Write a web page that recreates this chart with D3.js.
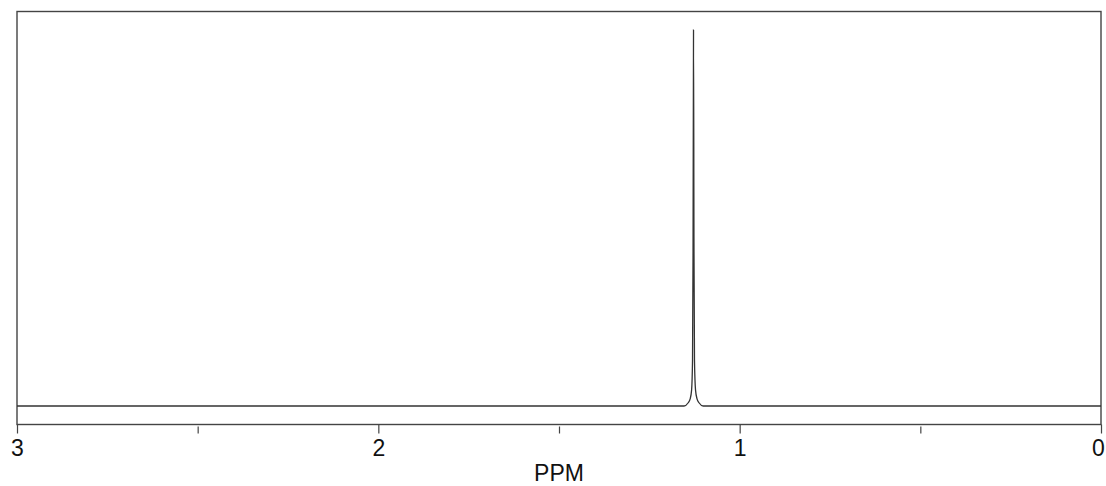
<!DOCTYPE html>
<html>
<head>
<meta charset="utf-8">
<script src="https://cdn.jsdelivr.net/npm/d3@7"></script>
<style>
  body { margin: 0; background: #fff; }
  svg { display: block; }
  .axis text { font-family: "Liberation Sans", Arial, sans-serif; font-size: 23px; fill: #111; }
  .axis line { stroke: #444; stroke-width: 1.2; }
</style>
</head>
<body>
<div id="spectrum"></div>
<script>
// spectrum trace (chemical shift, relative intensity)
var ppm       = [3.0, 1.154, 1.143, 1.137, 1.133, 1.1305, 1.129, 1.1277, 1.1264, 1.125, 1.1222, 1.118, 1.112, 1.101, 0.0];
var intensity = [0,   0,     0.008, 0.019, 0.043, 0.12,   0.41,  1.0,    0.41,   0.12,  0.043,  0.019, 0.008, 0,     0];

var majorTicks = [3, 2, 1, 0];
var minorTicks = [2.5, 1.5, 0.5];
var xLabel = "PPM";

// SVG drawing area
var width = 1106, height = 486;
var frame = {left: 17, right: 1101, top: 11.5, bottom: 424.5};

var svg = d3.select("#spectrum").append("svg")
    .attr("width", width)
    .attr("height", height);

// Scales
var x = d3.scaleLinear()
    .domain([3, 0])
    .range([frame.left, frame.right]);

var y = d3.scaleLinear()
    .domain([0, 1])
    .range([406, 30]);

// Frame
svg.append("rect")
    .attr("x", frame.left)
    .attr("y", frame.top)
    .attr("width", frame.right - frame.left)
    .attr("height", frame.bottom - frame.top)
    .attr("fill", "none")
    .attr("stroke", "#444")
    .attr("stroke-width", 1.4);

// Axes
var xAxis = d3.axisBottom(x)
    .tickValues(majorTicks)
    .tickFormat(d3.format("d"))
    .tickSize(9)
    .tickPadding(6);

var gx = svg.append("g")
    .attr("class", "axis x-axis")
    .attr("transform", "translate(0," + frame.bottom + ")")
    .call(xAxis);
gx.select(".domain").remove();

// keep the last label inside the window
gx.selectAll(".tick text")
    .filter(function(d) { return d === 0; })
    .attr("dx", -3);

var gMinor = svg.append("g")
    .attr("class", "axis minor")
    .attr("transform", "translate(0," + (frame.bottom + 2) + ")")
    .call(d3.axisBottom(x).tickValues(minorTicks).tickSize(7).tickFormat(""));
gMinor.select(".domain").remove();

// Label Axes
svg.append("text")
    .attr("text-anchor", "middle")
    .attr("x", x(1.5))
    .attr("y", 481)
    .attr("font-family", "Liberation Sans, Arial, sans-serif")
    .attr("font-size", 23)
    .attr("fill", "#111")
    .text(xLabel);

// Line
var points = ppm.map(function(d, i) { return [d, intensity[i]]; });

var line = d3.line()
    .x(function(d) { return x(d[0]); })
    .y(function(d) { return y(d[1]); })
    .curve(d3.curveMonotoneX);

svg.append("path")
    .attr("class", "line")
    .attr("d", line(points.slice().reverse()))
    .attr("stroke", "#333")
    .attr("stroke-width", 1.3)
    .attr("fill", "none");
</script>
</body>
</html>
